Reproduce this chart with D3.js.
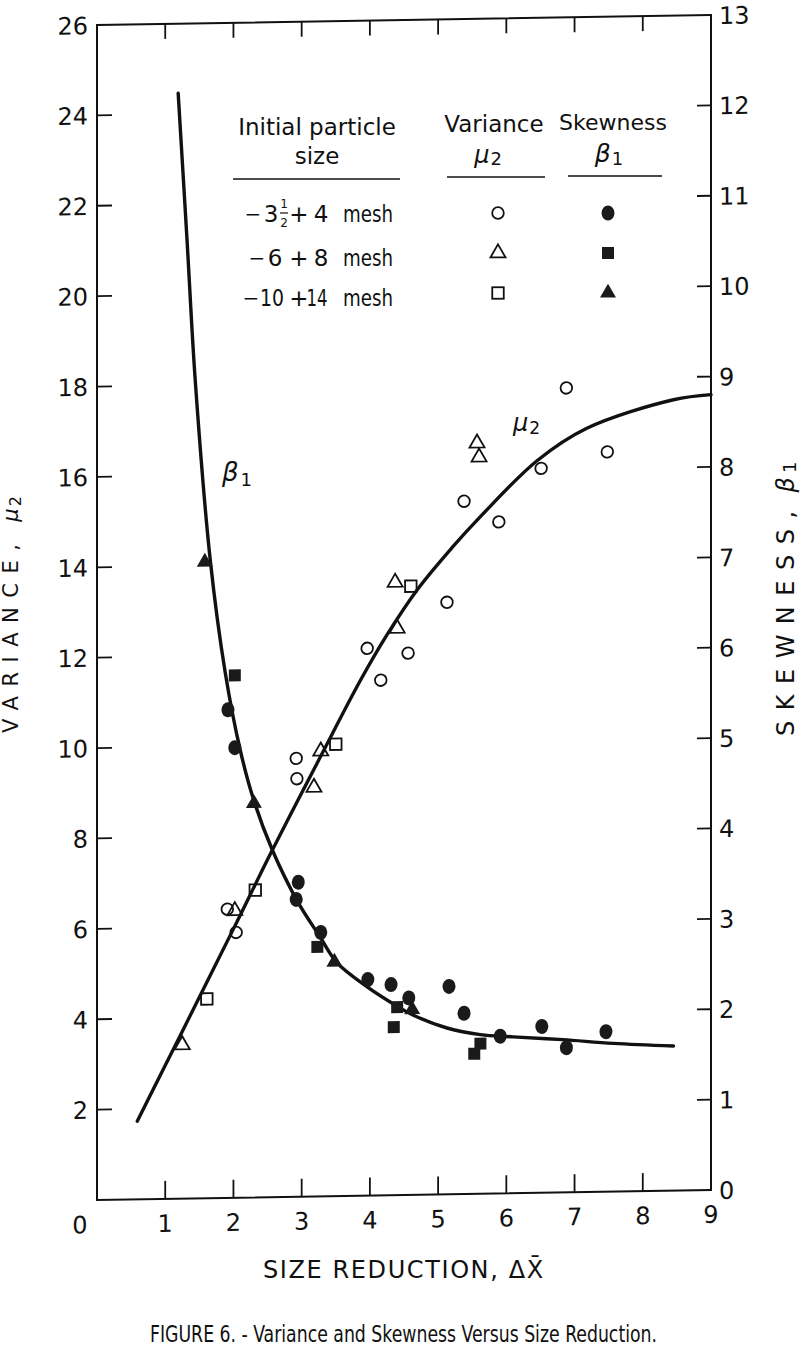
<!DOCTYPE html>
<html><head><meta charset="utf-8">
<script src="https://cdn.jsdelivr.net/npm/d3@7"></script>
<style>body{margin:0;background:#fff}svg{display:block}</style>
</head><body>
<script>
// ---- data ----
const xTickLabels = [0,1,2,3,4,5,6,7,8,9];
const xInnerTicks = [1,2,3,4,5,6,7,8];
const varTickLabels = [2,4,6,8,10,12,14,16,18,20,22,24,26];
const varInnerTicks = [2,4,6,8,10,12,14,16,18,20,22,24];
const skewTickLabels = [0,1,2,3,4,5,6,7,8,9,10,11,12,13];
const skewInnerTicks = [1,2,3,4,5,6,7,8,9,10,11,12];

// variance mu2 (open symbols)
const varCircles = [[1.91,6.39],[2.04,5.87],[2.92,9.7],[2.93,9.25],[3.96,12.11],[4.16,11.4],[4.56,11.99],[5.13,13.1],[5.38,15.33],[5.89,14.86],[6.51,16.03],[6.88,17.8],[7.48,16.37]];
const varTriangles = [[1.25,3.40],[2.02,6.35],[3.18,9.05],[3.28,9.85],[4.37,13.56],[4.40,12.54],[5.57,16.61],[5.60,16.3]];
const varSquares = [[1.61,4.41],[2.32,6.80],[3.5,10.0],[4.60,13.47]];
// skewness beta1 (filled symbols)
const skewCircles = [[1.92,5.4],[2.02,4.98],[2.95,3.48],[2.92,3.29],[3.28,2.92],[3.97,2.39],[4.31,2.33],[4.57,2.18],[5.16,2.30],[5.38,2.0],[5.91,1.74],[6.52,1.84],[6.88,1.60],[7.46,1.77]];
const skewSquares = [[2.02,5.78],[3.23,2.76],[4.40,2.08],[4.35,1.86],[5.62,1.66],[5.53,1.55]];
const skewTriangles = [[1.58,7.04],[2.30,4.36],[3.48,2.59],[4.62,2.05]];
// fitted curves
const varCurve = [[0.59,1.73],[1.25,3.7],[2.0,5.95],[2.57,7.68],[3.3,9.8],[3.86,11.4],[4.25,12.4],[4.7,13.4],[5.2,14.3],[5.63,15.0],[6.45,16.2],[7.18,16.9],[8.45,17.5],[9.0,17.6]];
const skewCurve = [[1.19,12.23],[1.32,10.6],[1.44,9.05],[1.66,7.06],[1.88,5.81],[2.1,4.95],[2.30,4.39],[2.57,3.84],[2.93,3.28],[3.27,2.87],[3.52,2.58],[3.96,2.31],[4.40,2.09],[4.63,1.99],[5.13,1.84],[5.62,1.76],[6.1,1.73],[6.83,1.69],[7.57,1.64],[8.45,1.60]];

// legend rows: sign, first size, second size
const legendSign = ["−", "−", "−"];
const legendFrom = ["3", "6", "10"];
const legendTo = ["4", "8", "14"];

// ---- drawing ----
const FONT = "'DejaVu Sans', 'Liberation Sans', sans-serif";
const INK = "#111";
const W = 614, H = 1175;
const svg = d3.select("body").append("svg").attr("width",800).attr("height",1360)
  .style("font-family", FONT);

const x = d3.scaleLinear().domain([0,9]).range([0,W]);
const yV = d3.scaleLinear().domain([0,26]).range([0,-H]);
const yS = d3.scaleLinear().domain([0,13]).range([0,-H]);

const shear = -Math.atan(10/614)*180/Math.PI;
const g = svg.append("g").attr("transform", `translate(97,1200) skewY(${shear})`);

// frame
g.append("path").attr("d", `M0,0H${W}V${-H}H0Z`).attr("fill","none").attr("stroke",INK).attr("stroke-width",2);

// ticks
g.selectAll(".lt").data(varInnerTicks).join("line")
  .attr("x1",0).attr("x2",15).attr("y1",d=>yV(d)).attr("y2",d=>yV(d)).attr("stroke",INK).attr("stroke-width",1.8);
g.selectAll(".rt").data(skewInnerTicks).join("line")
  .attr("x1",W).attr("x2",W-14).attr("y1",d=>yS(d)).attr("y2",d=>yS(d)).attr("stroke",INK).attr("stroke-width",1.8);
g.selectAll(".bt").data(xInnerTicks).join("line")
  .attr("x1",d=>x(d)).attr("x2",d=>x(d)).attr("y1",0).attr("y2",-18).attr("stroke",INK).attr("stroke-width",1.8);
g.selectAll(".tt").data(xInnerTicks).join("line")
  .attr("x1",d=>x(d)).attr("x2",d=>x(d)).attr("y1",-H).attr("y2",-H+15).attr("stroke",INK).attr("stroke-width",1.8);

// tick labels
g.selectAll(".ll").data(varTickLabels).join("text")
  .attr("x",-9).attr("y",d=>yV(d)+9).attr("text-anchor","end").attr("font-size",24).attr("fill",INK).text(d=>d);
g.selectAll(".rl").data(skewTickLabels).join("text")
  .attr("x",W+8).attr("y",d=>yS(d)+9).attr("text-anchor","start").attr("font-size",24).attr("fill",INK).text(d=>d);
g.selectAll(".bl").data(xTickLabels).join("text")
  .attr("x",d=>x(d)+(d===0?-17:0)).attr("y",33).attr("text-anchor","middle").attr("font-size",24).attr("fill",INK).text(d=>d);

// curves
const line = (ys) => d3.line().x(d=>x(d[0])).y(d=>ys(d[1])).curve(d3.curveCatmullRom.alpha(0.5));
g.append("path").datum(varCurve).attr("d", line(yV)).attr("fill","none").attr("stroke",INK).attr("stroke-width",3.4).attr("stroke-linecap","round");
g.append("path").datum(skewCurve).attr("d", line(yS)).attr("fill","none").attr("stroke",INK).attr("stroke-width",3.4).attr("stroke-linecap","round");

// markers
function tri(s){ const h=s*Math.sqrt(3)/2; return `M0,${-h*2/3}L${s/2},${h/3}L${-s/2},${h/3}Z`; }
function marker(sel, type, filled){
  let m;
  if(type==="circle"){
    m = filled ? sel.append("ellipse").attr("rx",6.5).attr("ry",7.5) : sel.append("circle").attr("r",5.8);
  } else if(type==="square"){
    const s = filled?12:11.5;
    m = sel.append("rect").attr("x",-s/2).attr("y",-s/2).attr("width",s).attr("height",s);
  } else {
    m = sel.append("path").attr("d", tri(filled?16:15));
  }
  if(filled) m.attr("fill","#1a1a1a").attr("stroke","none");
  else m.attr("fill","none").attr("stroke",INK).attr("stroke-width",1.8);
}
function plot(data, ys, type, filled){
  g.append("g").selectAll("g").data(data).join("g")
    .attr("transform", d=>`translate(${x(d[0])},${ys(d[1])})`)
    .each(function(){ marker(d3.select(this), type, filled); });
}
plot(varCircles, yV, "circle", false);
plot(varTriangles, yV, "triangle", false);
plot(varSquares, yV, "square", false);
plot(skewCircles, yS, "circle", true);
plot(skewSquares, yS, "square", true);
plot(skewTriangles, yS, "triangle", true);

// curve labels
const bl = svg.append("text").attr("x",222).attr("y",481).attr("font-size",26).attr("fill",INK);
bl.append("tspan").attr("font-style","italic").text("β");
bl.append("tspan").attr("font-size",18).attr("dy",5).attr("dx",2).text("1");
const ml = svg.append("text").attr("x",513).attr("y",431).attr("font-size",24).attr("fill",INK);
ml.append("tspan").attr("font-style","italic").text("μ");
ml.append("tspan").attr("font-size",17).attr("dy",3).attr("dx",1).text("2");

// legend
const L = svg.append("g").attr("fill",INK);
L.append("text").attr("x",317).attr("y",135).attr("text-anchor","middle").attr("font-size",23).text("Initial particle");
L.append("text").attr("x",317).attr("y",164).attr("text-anchor","middle").attr("font-size",23).text("size");
L.append("text").attr("x",494).attr("y",132).attr("text-anchor","middle").attr("font-size",23).text("Variance");
const lm = L.append("text").attr("x",488).attr("y",163).attr("text-anchor","middle").attr("font-size",24);
lm.append("tspan").attr("font-style","italic").text("μ");
lm.append("tspan").attr("font-size",18).attr("dy",2).attr("dx",1).text("2");
L.append("text").attr("x",613).attr("y",130).attr("text-anchor","middle").attr("font-size",22).text("Skewness");
const lb = L.append("text").attr("x",609).attr("y",162).attr("text-anchor","middle").attr("font-size",25);
lb.append("tspan").attr("font-style","italic").text("β");
lb.append("tspan").attr("font-size",18).attr("dy",3).attr("dx",1).text("1");
[[233,400,179],[447,545,177],[568,662,176]].forEach(([a,b,y])=>
  L.append("line").attr("x1",a).attr("x2",b).attr("y1",y).attr("y2",y).attr("stroke",INK).attr("stroke-width",1.6));
const rowY = [222,266,306];
const signX = [253,257,251], fromX = [271,275,272], fromLen = [null,null,24], toLen=[null,null,21];
legendSign.forEach((s,i)=>{
  const y = rowY[i];
  L.append("text").attr("x",signX[i]).attr("y",y-1).attr("text-anchor","middle").attr("font-size",20).text(s);
  const f = L.append("text").attr("x",fromX[i]).attr("y",y).attr("text-anchor","middle").attr("font-size",23).text(legendFrom[i]);
  if(fromLen[i]) f.attr("textLength",fromLen[i]).attr("lengthAdjust","spacingAndGlyphs");
  L.append("text").attr("x",299).attr("y",y).attr("text-anchor","middle").attr("font-size",23).text("+");
  const t = L.append("text").attr("x",i===2?317:321).attr("y",y).attr("text-anchor","middle").attr("font-size",23).text(legendTo[i]);
  if(toLen[i]) t.attr("textLength",toLen[i]).attr("lengthAdjust","spacingAndGlyphs");
  L.append("text").attr("x",343).attr("y",y).attr("font-size",23).attr("textLength",50).attr("lengthAdjust","spacingAndGlyphs").text("mesh");
});
// 1/2 fraction
L.append("text").attr("x",284).attr("y",208).attr("text-anchor","middle").attr("font-size",12).text("1");
L.append("line").attr("x1",280).attr("x2",288).attr("y1",213).attr("y2",213).attr("stroke",INK).attr("stroke-width",1.2);
L.append("text").attr("x",284).attr("y",227).attr("text-anchor","middle").attr("font-size",12).text("2");
// legend symbols
const symRows = [213,253,293];
const legVar = ["circle","triangle","square"], legSkew = ["circle","square","triangle"];
symRows.forEach((y,i)=>{
  marker(L.append("g").attr("transform",`translate(498,${y})`), legVar[i], false);
  marker(L.append("g").attr("transform",`translate(608,${y})`), legSkew[i], true);
});

// axis titles
const lt = svg.append("text").attr("transform","translate(18,733) rotate(-90)").attr("font-size",21).attr("letter-spacing",9.5).attr("fill",INK);
lt.append("tspan").text("VARIANCE,");
lt.append("tspan").attr("dx",13).attr("font-style","italic").attr("letter-spacing",2).text("μ");
lt.append("tspan").attr("font-size",16).attr("dy",3).text("2");
const rt = svg.append("text").attr("transform","translate(794,736) rotate(-90)").attr("font-size",24).attr("letter-spacing",10.5).attr("fill",INK);
rt.append("tspan").text("SKEWNESS,");
rt.append("tspan").attr("dx",8).attr("font-style","italic").attr("letter-spacing",4).text("β");
rt.append("tspan").attr("font-size",18).attr("dy",2).text("1");

svg.append("text").attr("x",263).attr("y",1278).attr("font-size",24).attr("letter-spacing",1.6).attr("fill",INK)
  .text("SIZE REDUCTION, ΔX\u0304");
svg.append("text").attr("x",150).attr("y",1342).attr("font-size",23)
  .attr("font-family","'Liberation Sans Narrow','DejaVu Sans Condensed','Liberation Sans',sans-serif")
  .attr("textLength",507).attr("lengthAdjust","spacingAndGlyphs").attr("fill",INK)
  .text("FIGURE 6. - Variance and Skewness Versus Size Reduction.");
</script>
</body></html>
